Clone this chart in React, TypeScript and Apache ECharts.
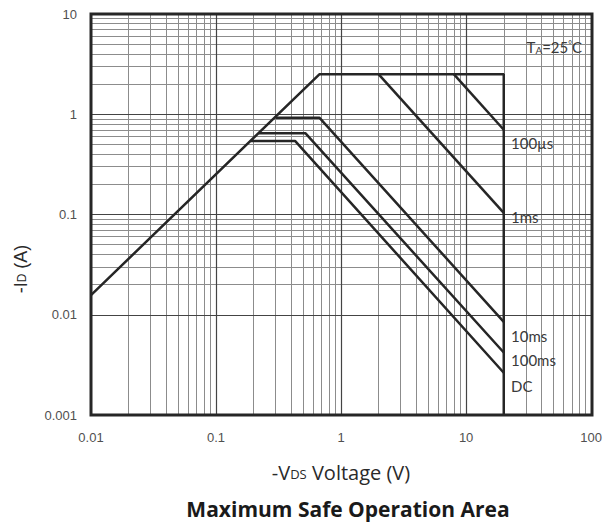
import React, { useEffect, useRef } from "react";
import * as echarts from "echarts";

// Axis ticks (log decades) and the minor grid mantissas
const xTicks = [0.01, 0.1, 1, 10, 100];
const yTicks = [0.001, 0.01, 0.1, 1, 10];
const mantissas = [2, 3, 4, 5, 6, 7, 8, 9];
const xTickLabels = ["0.01", "0.1", "1", "10", "100"];
const yTickLabels = ["0.001", "0.01", "0.1", "1", "10"];

// Curves [VDS (V), ID (A)]
const limitLine = [[0.01, 0.0157], [0.67, 2.5], [20, 2.5], [20, 0.001]];
const curve100us = [[8, 2.5], [20, 0.7]];
const curve1ms = [[2, 2.5], [20, 0.104]];
const curve10ms = [[0.3, 0.925], [0.67, 0.925], [20, 0.0085]];
const curve100ms = [[0.22, 0.645], [0.52, 0.645], [20, 0.0042]];
const curveDC = [[0.189, 0.54], [0.43, 0.54], [20, 0.00264]];

const curveNames = ["limit", "100µs", "1ms", "10ms", "100ms", "DC"];
const curveData = [limitLine, curve100us, curve1ms, curve10ms, curve100ms, curveDC];

const FONT_TXT = "Lato, 'Open Sans', sans-serif";
const FONT_TITLE = "'Open Sans', Lato, sans-serif";
const FONT_TICK = "'Liberation Sans', Arial, sans-serif";

export default function App() {
  const ref = useRef<HTMLDivElement>(null);
  useEffect(() => {
    if (!ref.current) return;
    const chart = echarts.init(ref.current, undefined, { renderer: "svg" });
    const minorX: number[] = [];
    xTicks.slice(0, -1).forEach((d) => mantissas.forEach((m) => minorX.push(+(d * m).toPrecision(3))));
    const minorY: number[] = [];
    yTicks.slice(0, -1).forEach((d) => mantissas.forEach((m) => minorY.push(+(d * m).toPrecision(3))));
    const majorX = xTicks.slice(1, -1);
    const majorY = yTicks.slice(1, -1);

    const gridLeft = 91, gridTop = 14, gridW = 501, gridH = 401;

    const lineSeries = curveData.map((d, i) => ({
      name: curveNames[i],
      type: "line",
      data: d,
      showSymbol: false,
      symbol: "none",
      lineStyle: { color: "#262626", width: 2.5 },
      z: 5,
      silent: true,
    }));

    const xFmt = (v: number) => {
      const idx = xTicks.findIndex((t) => Math.abs(Math.log10(t) - Math.log10(v)) < 1e-6);
      return idx >= 0 ? xTickLabels[idx] : "";
    };
    const yFmt = (v: number) => {
      const idx = yTicks.findIndex((t) => Math.abs(Math.log10(t) - Math.log10(v)) < 1e-6);
      return idx >= 0 ? yTickLabels[idx] : "";
    };

    const labelStyle = { fontFamily: FONT_TXT, fontSize: 15, fill: "#3a3a3a" };

    chart.setOption({
      animation: false,
      backgroundColor: "#ffffff",
      grid: { left: gridLeft, top: gridTop, width: gridW, height: gridH, containLabel: false },
      xAxis: {
        type: "log",
        logBase: 10,
        min: 0.01,
        max: 100,
        axisLine: { show: false },
        axisTick: { show: false },
        splitLine: { show: false },
        axisLabel: {
          formatter: xFmt,
          fontFamily: FONT_TICK,
          fontSize: 13,
          color: "#505050",
          margin: 16,
          showMinLabel: true,
          showMaxLabel: true,
        },
      },
      yAxis: {
        type: "log",
        logBase: 10,
        min: 0.001,
        max: 10,
        axisLine: { show: false },
        axisTick: { show: false },
        splitLine: { show: false },
        axisLabel: {
          formatter: yFmt,
          fontFamily: FONT_TICK,
          fontSize: 13,
          color: "#505050",
          margin: 14,
          showMinLabel: true,
          showMaxLabel: true,
        },
      },
      series: [
        {
          name: "minorGrid",
          type: "line",
          data: [],
          silent: true,
          z: 1,
          markLine: {
            silent: true,
            symbol: ["none", "none"],
            label: { show: false },
            lineStyle: { color: "#8c8c8c", width: 1, type: "solid" },
            data: [
              ...minorX.map((v) => ({ xAxis: v })),
              ...minorY.map((v) => ({ yAxis: v })),
            ],
          },
        },
        {
          name: "majorGrid",
          type: "line",
          data: [],
          silent: true,
          z: 2,
          markLine: {
            silent: true,
            symbol: ["none", "none"],
            label: { show: false },
            lineStyle: { color: "#444444", width: 1.2, type: "solid" },
            data: [
              ...majorX.map((v) => ({ xAxis: v })),
              ...majorY.map((v) => ({ yAxis: v })),
            ],
          },
        },
        ...lineSeries,
      ],
      graphic: [
        {
          type: "rect",
          z: 100,
          silent: true,
          shape: { x: gridLeft, y: gridTop, width: gridW, height: gridH },
          style: { fill: "none", stroke: "#262626", lineWidth: 3 },
        },
        {
          type: "text",
          z: 101,
          x: 582,
          y: 47,
          style: {
            text: "T{s|A}=25{d|°}C",
            align: "right",
            verticalAlign: "middle",
            ...labelStyle,
            rich: {
              s: { fontFamily: FONT_TXT, fontSize: 10, fill: "#3a3a3a", verticalAlign: "bottom" },
              d: { fontFamily: FONT_TXT, fontSize: 9, fill: "#3a3a3a", verticalAlign: "top" },
            },
          },
        },
        { type: "text", z: 101, x: 511, y: 143, style: { text: "100µs", verticalAlign: "middle", ...labelStyle } },
        { type: "text", z: 101, x: 511, y: 217, style: { text: "1ms", verticalAlign: "middle", ...labelStyle } },
        { type: "text", z: 101, x: 511, y: 336, style: { text: "10ms", verticalAlign: "middle", ...labelStyle } },
        { type: "text", z: 101, x: 511, y: 360, style: { text: "100ms", verticalAlign: "middle", ...labelStyle } },
        { type: "text", z: 101, x: 511, y: 386, style: { text: "DC", verticalAlign: "middle", ...labelStyle } },
        {
          type: "text",
          x: 341,
          y: 472,
          style: {
            text: "{n|-V}{s|DS}{n| Voltage (V)}",
            align: "center",
            verticalAlign: "middle",
            fontFamily: FONT_TITLE,
            fontSize: 20,
            fill: "#2a2a2a",
            rich: {
              n: { fontFamily: FONT_TITLE, fontSize: 20, fill: "#2a2a2a", verticalAlign: "bottom" },
              s: { fontFamily: FONT_TITLE, fontSize: 13, fill: "#2a2a2a", verticalAlign: "bottom", padding: [0, 0, 2, 0] },
            },
          },
        },
        {
          type: "text",
          x: 21,
          y: 269,
          rotation: Math.PI / 2,
          style: {
            text: "{n|-I}{s|D}{n| (A)}",
            align: "center",
            verticalAlign: "middle",
            fontFamily: "'Liberation Sans', Arial, sans-serif",
            fontSize: 18,
            fill: "#2a2a2a",
            rich: {
              n: { fontFamily: "'Liberation Sans', Arial, sans-serif", fontSize: 18, fill: "#2a2a2a", verticalAlign: "bottom" },
              s: { fontFamily: "'Liberation Sans', Arial, sans-serif", fontSize: 12, fill: "#2a2a2a", verticalAlign: "bottom", padding: [0, 0, 2, 0] },
            },
          },
        },
        {
          type: "text",
          x: 348,
          y: 509,
          style: {
            text: "Maximum Safe Operation Area",
            align: "center",
            verticalAlign: "middle",
            fontFamily: FONT_TITLE,
            fontWeight: "bold",
            fontSize: 21,
            fill: "#1a1a1a",
          },
        },
      ],
    });
    return () => chart.dispose();
  }, []);
  return <div ref={ref} style={{ position: "fixed", left: 0, top: 0, width: 605, height: 526 }} />;
}
